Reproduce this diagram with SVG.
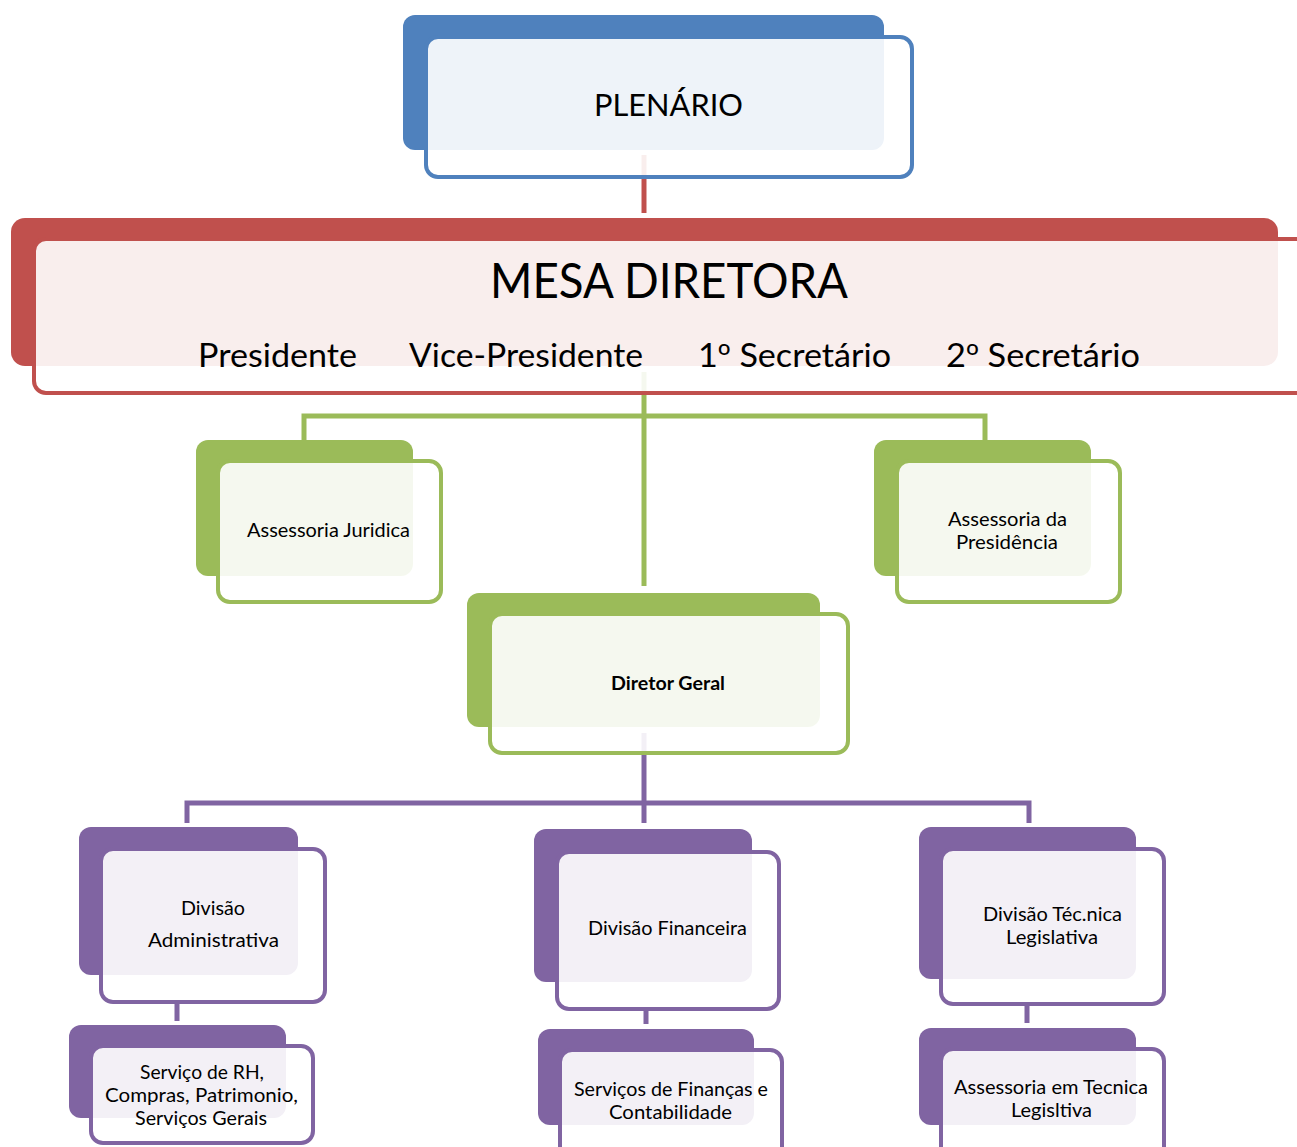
<svg xmlns="http://www.w3.org/2000/svg" width="1297" height="1147" viewBox="0 0 1297 1147">
<style>
  .bg{fill:#ffffff}
  .fr{fill:#ffffff;fill-opacity:0.9;stroke-width:4}
  .blue .bk{fill:#4F81BD}.blue .fr{stroke:#4F81BD}
  .red .bk{fill:#C0504D}.red .fr{stroke:#C0504D}
  .green .bk{fill:#9BBB59}.green .fr{stroke:#9BBB59}
  .purple .bk{fill:#8064A2}.purple .fr{stroke:#8064A2}
  text{font-family:Lato,"Liberation Sans",sans-serif;fill:#000}
  .o{font-family:"Noto Sans","DejaVu Sans",sans-serif}
  .s{font-size:19px}
  .c{fill:none;stroke-width:5}
</style>
<rect class="bg" x="0" y="0" width="1297" height="1147"/>
<g id="connectors">
  <path class="c" stroke="#C0504D" d="M644 155 V213"/>
  <path class="c" stroke="#9BBB59" d="M644 372 V586 M304 440 V416 H985 V440"/>
  <path class="c" stroke="#8064A2" d="M644 733 V823 M187 823 V803 H1029 V823"/>
  <path class="c" stroke="#8064A2" d="M177 1003 V1021 M646 1010 V1024 M1027 1005 V1023"/>
</g>
<g id="plenario" class="blue">
  <rect class="bk" x="403" y="15" width="481" height="135" rx="12"/>
  <rect class="fr" x="426" y="37" width="486" height="140" rx="12"/>
  <text x="594" y="116" font-size="31" textLength="149" lengthAdjust="spacingAndGlyphs">PLENÁRIO</text>
</g>
<g id="mesa" class="red">
  <rect class="bk" x="11" y="218" width="1267" height="148" rx="14"/>
  <rect class="fr" x="34" y="239" width="1290" height="154" rx="12"/>
  <text x="490" y="298" font-size="49" textLength="358" lengthAdjust="spacingAndGlyphs">MESA DIRETORA</text>
  <text x="198" y="367" font-size="33" textLength="159" lengthAdjust="spacingAndGlyphs">Presidente</text>
  <text x="409" y="367" font-size="33" textLength="234" lengthAdjust="spacingAndGlyphs">Vice-Presidente</text>
  <text x="698" y="367" font-size="33" textLength="193" lengthAdjust="spacingAndGlyphs">1<tspan class="o">º</tspan> Secretário</text>
  <text x="946" y="367" font-size="33" textLength="194" lengthAdjust="spacingAndGlyphs">2<tspan class="o">º</tspan> Secretário</text>
</g>
<g id="assessoria-juridica" class="green">
  <rect class="bk" x="196" y="440" width="217" height="136" rx="12"/>
  <rect class="fr" x="218" y="461" width="223" height="141" rx="12"/>
  <text class="s" x="247" y="537" textLength="163" lengthAdjust="spacingAndGlyphs">Assessoria Juridica</text>
</g>
<g id="assessoria-presidencia" class="green">
  <rect class="bk" x="874" y="440" width="217" height="136" rx="12"/>
  <rect class="fr" x="897" y="461" width="223" height="141" rx="12"/>
  <text class="s" x="948" y="526" textLength="119" lengthAdjust="spacingAndGlyphs">Assessoria da</text>
  <text class="s" x="956" y="549" textLength="102" lengthAdjust="spacingAndGlyphs">Presidência</text>
</g>
<g id="diretor-geral" class="green">
  <rect class="bk" x="467" y="593" width="353" height="134" rx="12"/>
  <rect class="fr" x="490" y="614" width="358" height="139" rx="12"/>
  <text class="s" x="611" y="690" font-weight="bold" textLength="114" lengthAdjust="spacingAndGlyphs">Diretor Geral</text>
</g>
<g id="divisao-administrativa" class="purple">
  <rect class="bk" x="79" y="827" width="219" height="148" rx="12"/>
  <rect class="fr" x="101" y="849" width="224" height="153" rx="12"/>
  <text class="s" x="181" y="915" textLength="64" lengthAdjust="spacingAndGlyphs">Divisão</text>
  <text class="s" x="148" y="947" textLength="131" lengthAdjust="spacingAndGlyphs">Administrativa</text>
</g>
<g id="divisao-financeira" class="purple">
  <rect class="bk" x="534" y="829" width="218" height="153" rx="12"/>
  <rect class="fr" x="557" y="852" width="222" height="157" rx="12"/>
  <text class="s" x="588" y="935" textLength="159" lengthAdjust="spacingAndGlyphs">Divisão Financeira</text>
</g>
<g id="divisao-tecnica" class="purple">
  <rect class="bk" x="919" y="827" width="217" height="152" rx="12"/>
  <rect class="fr" x="941" y="849" width="223" height="155" rx="12"/>
  <text class="s" x="983" y="921" textLength="139" lengthAdjust="spacingAndGlyphs">Divisão Téc.nica</text>
  <text class="s" x="1006" y="944" textLength="92" lengthAdjust="spacingAndGlyphs">Legislativa</text>
</g>
<g id="servico-rh" class="purple">
  <rect class="bk" x="69" y="1025" width="217" height="93" rx="12"/>
  <rect class="fr" x="91" y="1046" width="222" height="97" rx="12"/>
  <text class="s" x="140" y="1079" textLength="124" lengthAdjust="spacingAndGlyphs">Serviço de RH,</text>
  <text class="s" x="105" y="1102" textLength="193" lengthAdjust="spacingAndGlyphs">Compras, Patrimonio,</text>
  <text class="s" x="135" y="1125" textLength="132" lengthAdjust="spacingAndGlyphs">Serviços Gerais</text>
</g>
<g id="servicos-financas" class="purple">
  <rect class="bk" x="538" y="1029" width="216" height="96" rx="12"/>
  <rect class="fr" x="560" y="1050" width="222" height="110" rx="12"/>
  <text class="s" x="574" y="1096" textLength="194" lengthAdjust="spacingAndGlyphs">Serviços de Finanças e</text>
  <text class="s" x="609" y="1119" textLength="123" lengthAdjust="spacingAndGlyphs">Contabilidade</text>
</g>
<g id="assessoria-tecnica" class="purple">
  <rect class="bk" x="919" y="1028" width="217" height="97" rx="12"/>
  <rect class="fr" x="941" y="1049" width="223" height="110" rx="12"/>
  <text class="s" x="954" y="1094" textLength="194" lengthAdjust="spacingAndGlyphs">Assessoria em Tecnica</text>
  <text class="s" x="1011" y="1117" textLength="81" lengthAdjust="spacingAndGlyphs">Legisltiva</text>
</g>
</svg>
